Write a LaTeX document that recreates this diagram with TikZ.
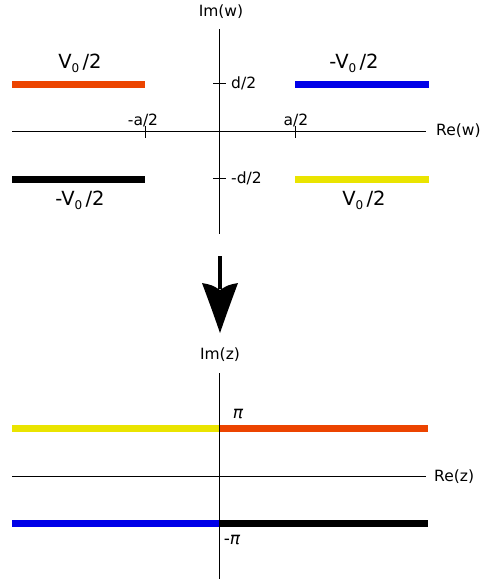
\documentclass[tikz,border=0pt]{standalone}
\usepackage{fontspec}
\setmainfont{DejaVu Sans}
\definecolor{barorange}{RGB}{236,68,0}
\definecolor{barblue}{RGB}{0,0,232}
\definecolor{baryellow}{RGB}{234,228,0}
\begin{document}
\begin{tikzpicture}[x=1pt,y=-1pt,
  axis/.style={line width=1.4pt,black},
  tick/.style={line width=1pt,black},
  bar/.style={line width=7pt},
  small/.style={font=\fontsize{15.5}{18}\selectfont,inner sep=1pt},
  big/.style={font=\fontsize{19.5}{24}\selectfont,inner sep=1pt},
  pilabel/.style={font=\fontsize{17}{20}\selectfont\itshape,inner sep=1pt}]
\newcommand{\Vnull}{V\raisebox{-0.35ex}{\fontsize{12}{14}\selectfont 0}\,/2}
\useasboundingbox (0,0) rectangle (482,581);
% ---- top plane (w) ----
\coordinate (wl) at (12,131.7);
\coordinate (wr) at (426,131.7);
\coordinate (wt) at (219.5,29);
\coordinate (wb) at (219.5,234);
\draw[axis] (wl) -- (wr);
\draw[axis] (wt) -- (wb);
\node[small] (imw) at (221,12) {Im(w)};
\node[small,anchor=west] (rew) at (435,131) {Re(w)};
% ticks
\draw[tick] (145,126) -- (145,138);
\draw[tick] (295,126) -- (295,138);
\draw[tick] (213,83.5) -- (226,83.5);
\draw[tick] (213,178.5) -- (226,178.5);
\node[small] (ma) at (143,120) {-a/2};
\node[small] (pa) at (296,120) {a/2};
\node[small,anchor=west] (pd) at (230,83) {d/2};
\node[small,anchor=west] (md) at (230,178.5) {-d/2};
% bars
\draw[bar,barorange] (12,84) -- (145,84);
\draw[bar,barblue] (295,84) -- (429,84);
\draw[bar,black] (12,179) -- (145,179);
\draw[bar,baryellow] (295,179) -- (429,179);
% bar labels
\node[big] (l1) at (80,63) {\Vnull};
\node[big] (l2) at (354,63) {-\Vnull};
\node[big] (l3) at (80,200) {-\Vnull};
\node[big] (l4) at (364,200) {\Vnull};
% ---- arrow ----
\coordinate (as) at (220,256);
\coordinate (ah) at (220,289);
\coordinate (at) at (220,333);
\draw[line width=4.3pt] (as) -- (ah);
\fill (at) .. controls (212,310) .. (202,283) .. controls (212,285) .. (220,290)
  .. controls (228,285) .. (238,283) .. controls (228,310) .. (at) -- cycle;
% ---- bottom plane (z) ----
\coordinate (zl) at (12,476.7);
\coordinate (zr) at (426,476.7);
\coordinate (zt) at (219.5,373);
\coordinate (zb) at (219.5,579);
\draw[axis] (zl) -- (zr);
\draw[bar,baryellow] (12,428.3) -- (219.5,428.3);
\draw[bar,barorange] (219.5,428.3) -- (428,428.3);
\draw[bar,barblue] (12,523.3) -- (219.5,523.3);
\draw[bar,black] (219.5,523.3) -- (428,523.3);
\draw[axis] (zt) -- (zb);
\node[small] (imz) at (220,355) {Im(z)};
\node[small,anchor=west] (rez) at (433,477) {Re(z)};
\node[pilabel] (pi) at (238,414) {π};
\node[pilabel] (mpi) at (232,540) {{\upshape -}π};
\end{tikzpicture}
\end{document}
